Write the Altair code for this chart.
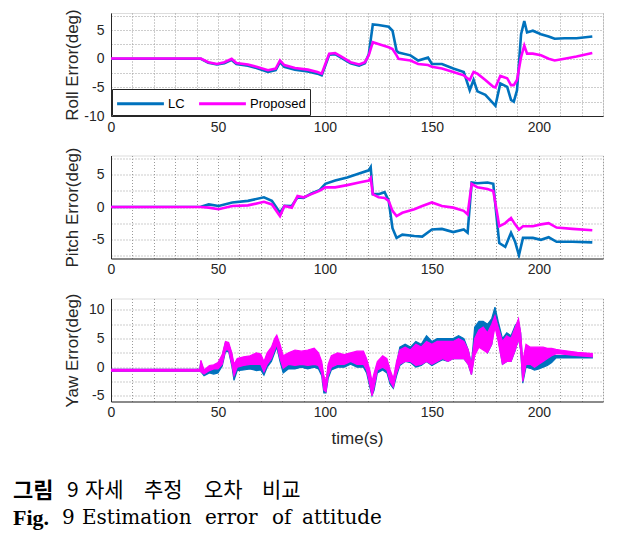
import altair as alt
import pandas as pd

# ---------------- data ----------------
series_names = ["LC", "Proposed"]
series_colors = ["#0072BD", "#FF00FF"]

# Roll error
roll_t = [0, 42, 45.5, 49.5, 53, 56.4, 58.6, 64, 68, 73.4, 77, 79, 81, 86, 92, 96.5, 98.5,
          100.2, 102, 104.8, 108.5, 112, 116, 118.7, 120.5, 122.4, 125, 129.8, 131.6, 133.5,
          134.4, 140, 143.6, 148.2, 150, 154.7, 160, 164.9, 167.7, 169.5, 171.3, 175, 178.7,
          179.7, 182, 185.2, 187, 188.3, 189.8, 191.7, 193.2, 194.5, 197.2, 201, 204.6, 207.4,
          212, 217.6, 225]
roll_prop = [0.05, 0.05, -0.6, -0.9, -0.6, 0.0, -0.75, -1.0, -1.4, -2.0, -1.7, -0.3, -1.1, -1.6,
             -1.9, -2.3, -2.6, -0.9, 0.9, 1.0, 0.2, -0.6, -1.0, -0.6, 0.6, 2.9, 2.6, 2.0, 1.7, 0.6,
             0.0, -0.3, -0.9, -1.1, -1.4, -1.7, -2.3, -2.9, -3.7, -2.3, -2.6, -3.7, -4.9, -5.0,
             -3.0, -3.4, -4.6, -4.6, -3.7, 0.3, 2.3, 0.9, 0.9, 0.6, 0.0, -0.3, 0.0, 0.4, 1.0]
roll_lc = [0.0, 0.0, -0.7, -1.0, -0.8, -0.2, -0.9, -1.2, -1.6, -2.3, -2.0, -0.6, -1.4, -1.9,
           -2.2, -2.6, -2.9, -1.2, 0.7, 0.8, 0.0, -0.8, -1.2, -0.8, 0.8, 6.0, 5.9, 5.6, 4.9, 1.4,
           1.1, 0.6, -0.3, 0.2, -0.9, -0.9, -1.7, -2.3, -5.5, -3.7, -5.7, -6.3, -7.8, -8.2,
           -4.3, -4.9, -7.2, -7.5, -5.5, 4.3, 6.6, 4.6, 4.9, 4.3, 3.9, 3.5, 3.6, 3.6, 3.9]

# Pitch error
pitch_t = [0, 42, 45.7, 50.3, 56.7, 64, 71.5, 75.2, 79, 81.1, 84.5, 87.2, 90, 93.7, 97.4, 100.2,
           104.8, 110.4, 116, 120.5, 121.4, 122.4, 125.1, 127.9, 129.8, 131.6, 133.5, 136.2,
           141.8, 145.5, 150, 154.7, 160, 164.9, 166.7, 168.6, 171.3, 176, 178.7, 180.6, 181.5,
           184.3, 187, 188.9, 190.7, 192.6, 197.2, 201, 204.6, 208.3, 215.7, 225]
pitch_prop = [0, 0, -0.1, -0.35, 0.15, 0.25, 0.8, 0.4, -1.4, 0.15, -0.1, 1.7, 1.5, 2.0, 2.5, 3.05,
              3.05, 3.4, 3.8, 4.1, 4.5, 2.0, 1.5, 1.4, 0.95, -0.6, -1.4, -0.9, -0.35, 0.15, 0.7,
              0.15, -0.1, -0.6, -1.15, 3.6, 3.05, 2.8, 2.5, -1.15, -3.0, -2.5, -1.7, -2.7, -3.5,
              -3.0, -3.0, -2.7, -2.5, -3.2, -3.4, -3.6]
pitch_lc = [0, 0.05, 0.4, 0.15, 0.7, 0.95, 1.5, 0.95, -0.9, 0.2, 0.15, 1.5, 1.4, 2.1, 2.6, 3.6,
            4.1, 4.6, 5.2, 5.7, 6.2, 2.0, 2.0, 2.3, 1.0, -3.3, -4.8, -4.3, -4.5, -4.6, -3.5,
            -3.4, -3.9, -3.5, -4.0, 3.8, 3.7, 3.8, 3.6, -2.7, -5.6, -6.2, -4.0, -5.4, -7.5,
            -4.8, -4.8, -5.1, -4.7, -5.4, -5.4, -5.5]

# Yaw error (dense oscillation drawn as low/high envelope)
yaw_t = [0, 41.5, 42, 43.5, 46, 48, 50, 52, 53.5, 55, 56.5, 57.5, 59, 62, 65, 68, 70, 71.5, 73,
         75, 76.5, 77.5, 79, 80.5, 83, 86, 89, 92, 95, 97, 98.5, 99.5, 100.5, 101.5, 103, 106,
         109, 112, 115, 118, 119.5, 121, 122, 123, 124.5, 127, 129, 130.5, 132, 133.5, 135,
         137.5, 140, 142.5, 145, 147.5, 150, 152.5, 155, 157.5, 160, 162.5, 165, 167, 168.5,
         170, 172, 174, 176, 178, 179.5, 181, 183, 185, 187, 189, 190.5, 191.5, 192.5, 194,
         196, 198, 200, 202, 204, 206, 208, 210, 218, 225]
yaw_prop_lo = [-0.7, -0.7, -0.8, -1.2, -0.6, -0.3, -0.3, 0.5, 3.0, 3.0, 0.5, -1.5, 0.0, 0.3,
               0.5, 0.5, 0.5, -0.8, 0.5, 1.5, 3.0, 4.0, 1.5, -0.2, 0.5, 0.3, 0.5, 0.3, 0.5, 0.3,
               -1.0, -4.0, -4.3, -1.5, 0.0, 0.5, 0.5, 1.0, 0.5, 0.5, -0.5, -3.0, -5.0, -3.5,
               -0.5, 0.0, -0.5, -2.5, -3.5, -1.0, 0.5, 1.0, 1.0, 0.3, 0.5, 1.0, 0.5, 1.0, 1.5,
               1.0, 1.5, 1.5, 1.5, 0.5, -1.3, 2.0, 3.5, 3.0, 2.5, 4.0, 7.0, 4.5, 0.5, 1.0, 1.0,
               3.0, 5.0, 3.0, -2.5, 0.5, 0.5, 0.0, 0.5, 1.0, 1.5, 2.0, 2.3, 2.3, 2.0, 1.8]
yaw_prop_hi = [-0.4, -0.4, 1.2, -0.5, 0.3, 0.4, 0.8, 2.2, 4.5, 4.3, 2.5, 0.5, 1.5, 1.8, 2.0,
               2.5, 2.3, 1.0, 2.5, 3.5, 5.0, 5.6, 4.0, 2.0, 2.5, 3.0, 2.8, 3.0, 3.3, 2.5, 1.0,
               -1.5, -2.5, 0.5, 2.0, 2.5, 2.2, 2.5, 2.8, 2.8, 1.5, -0.5, -2.5, -1.0, 1.0, 2.0,
               1.5, -0.5, -2.0, 1.0, 3.0, 3.5, 3.0, 4.0, 3.5, 4.5, 4.0, 4.5, 4.5, 4.5, 4.5, 5.0,
               4.5, 3.0, 0.5, 5.0, 6.5, 7.0, 6.0, 7.5, 9.0, 7.0, 4.5, 5.5, 5.0, 7.0, 8.5, 6.0,
               1.0, 4.0, 3.5, 3.5, 3.5, 3.5, 3.3, 3.3, 3.1, 3.0, 2.6, 2.4]
yaw_lc_lo = [-0.7, -0.7, -0.8, -1.5, -1.0, -1.2, -1.0, 0.2, 2.7, 2.7, 0.2, -2.3, -0.6, -0.5,
             -0.3, -0.6, -0.5, -1.4, 0.0, 1.0, 2.5, 3.5, 1.0, -1.0, -0.3, -0.3, 0.0, -0.3, 0.0,
             -0.3, -1.5, -4.5, -4.5, -2.0, -0.5, 0.0, 0.0, 0.5, 0.0, 0.0, -1.0, -3.5, -5.0,
             -4.0, -1.0, -0.5, -1.0, -3.0, -3.7, -1.5, 0.3, 1.0, 0.8, 0.0, 0.3, 1.0, 0.3, 0.8,
             1.3, 1.0, 1.5, 1.5, 1.5, 0.5, -1.3, 2.5, 4.0, 3.5, 2.5, 4.0, 8.0, 5.0, 0.5, 1.0,
             1.0, 3.0, 5.0, 3.0, -2.8, 0.0, -0.2, -0.5, -0.3, 0.0, 0.3, 0.8, 1.6, 1.6, 1.6, 1.6]
yaw_lc_hi = [-0.4, -0.4, 1.0, -0.8, 0.0, 0.0, 0.3, 2.0, 4.3, 4.0, 2.2, 0.0, 1.2, 1.3, 1.5,
             2.0, 2.0, 0.5, 2.2, 3.2, 4.8, 5.3, 3.5, 1.5, 2.0, 2.5, 2.3, 2.5, 3.0, 2.0, 0.5,
             -2.0, -3.0, 0.0, 1.5, 2.0, 2.0, 2.2, 2.5, 2.5, 1.0, -1.0, -3.0, -1.5, 0.5, 1.5,
             1.0, -1.0, -2.3, 0.5, 3.5, 4.0, 3.5, 4.5, 4.0, 5.5, 4.5, 5.0, 5.0, 5.0, 5.0, 5.5,
             5.0, 3.0, 0.5, 7.0, 8.0, 8.0, 7.5, 8.5, 10.5, 8.0, 5.0, 6.0, 5.5, 7.3, 8.0, 6.0,
             0.5, 3.5, 3.0, 2.5, 2.5, 2.5, 2.2, 2.0, 2.0, 2.0, 2.0, 2.0]

# axis ticks / labels
x_domain = [0, 230]
x_grid_values = list(range(0, 231, 10))
roll_domain, roll_grid = [-10, 8], [-10, -7.5, -5, -2.5, 0, 2.5, 5, 7.5]
pitch_domain, pitch_grid = [-8, 8], [-7.5, -5, -2.5, 0, 2.5, 5, 7.5]
yaw_domain, yaw_grid = [-6, 12], [-5, -2.5, 0, 2.5, 5, 7.5, 10]

caption_ko_words = ["그림", "9", "자세", "추정", "오차", "비교"]
caption_en_words = ["Fig.", "9", "Estimation", "error", "of", "attitude"]

# ---------------- tables ----------------
def long_table(t, lc, prop):
    return pd.DataFrame({
        "t": list(t) * 2,
        "v": list(lc) + list(prop),
        "series": ["LC"] * len(t) + ["Proposed"] * len(t),
    })

roll_df = long_table(roll_t, roll_lc, roll_prop)
pitch_df = long_table(pitch_t, pitch_lc, pitch_prop)
yaw_df = pd.DataFrame({
    "t": yaw_t * 2,
    "lo": yaw_lc_lo + yaw_prop_lo,
    "hi": yaw_lc_hi + yaw_prop_hi,
    "series": ["LC"] * len(yaw_t) + ["Proposed"] * len(yaw_t),
})

FONT = "Liberation Sans"
AX = "#262626"
GRID = "#9a9a9a"
W, H = 492, 103

color_scale = alt.Scale(domain=series_names, range=series_colors)


def x_axis(title=None):
    return alt.Axis(
        title=title,
        values=x_grid_values,
        labelExpr="datum.value % 50 == 0 ? '' + datum.value : ''",
        grid=True, gridDash=[1, 2], gridColor=GRID, gridWidth=1,
        ticks=False, tickSize=0,
        labelPadding=4, labelFontSize=14, labelColor=AX, labelFont=FONT,
        domainColor=AX, domainWidth=1,
        titleFontSize=17, titleFont=FONT, titleColor=AX, titleFontWeight="normal",
        titlePadding=11,
        labelFlush=False,
    )


def y_axis(title, values):
    return alt.Axis(
        title=title, values=values,
        labelExpr="datum.value % 5 == 0 ? '' + datum.value : ''",
        grid=True, gridDash=[1, 2], gridColor=GRID, gridWidth=1,
        ticks=False, tickSize=0,
        labelPadding=7, labelFontSize=14, labelColor=AX, labelFont=FONT,
        domainColor=AX, domainWidth=1,
        titleFontSize=17, titleFont=FONT, titleColor=AX, titleFontWeight="normal",
        titlePadding=3, minExtent=27, maxExtent=27,
        labelFlush=False,
    )


legend = alt.Legend(
    title=None, orient="bottom-left", direction="horizontal", columns=2,
    symbolType="M-2.6,0H2.6", symbolStrokeWidth=3, symbolSize=324, symbolOffset=14,
    symbolFillColor="transparent",
    labelFontSize=13, labelFont=FONT, labelColor="black", labelOffset=17,
    columnPadding=8, padding=4, offset=1,
    strokeColor=AX, fillColor="white",
)

roll = alt.Chart(roll_df).mark_line(strokeWidth=2.6, clip=True).encode(
    x=alt.X("t:Q", scale=alt.Scale(domain=x_domain, nice=False), axis=x_axis()),
    y=alt.Y("v:Q", scale=alt.Scale(domain=roll_domain, nice=False), axis=y_axis("Roll Error(deg)", roll_grid)),
    color=alt.Color("series:N", scale=color_scale, legend=legend),
).properties(width=W, height=H)

pitch = alt.Chart(pitch_df).mark_line(strokeWidth=2.6, clip=True).encode(
    x=alt.X("t:Q", scale=alt.Scale(domain=x_domain, nice=False), axis=x_axis()),
    y=alt.Y("v:Q", scale=alt.Scale(domain=pitch_domain, nice=False), axis=y_axis("Pitch Error(deg)", pitch_grid)),
    color=alt.Color("series:N", scale=color_scale, legend=None),
).properties(width=W, height=H)

yaw = alt.Chart(yaw_df).mark_area(strokeWidth=1.2, clip=True, opacity=1).encode(
    x=alt.X("t:Q", scale=alt.Scale(domain=x_domain, nice=False), axis=x_axis("time(s)")),
    y=alt.Y("lo:Q", scale=alt.Scale(domain=yaw_domain, nice=False), axis=y_axis("Yaw Error(deg)", yaw_grid)),
    y2="hi:Q",
    color=alt.Color("series:N", scale=color_scale, legend=None),
    stroke=alt.Stroke("series:N", scale=color_scale, legend=None),
).properties(width=W, height=H)

dummy = pd.DataFrame({"a": [0]})
KO = "Noto Sans CJK KR"
EN_B = "Liberation Serif"
EN = "DejaVu Serif"


def cap(text, x, y, font, size, bold=False):
    return alt.Chart(dummy).mark_text(
        text=text, font=font, fontSize=size, fontWeight="bold" if bold else "normal",
        align="left", baseline="middle", color="black",
    ).encode(x=alt.value(x), y=alt.value(y))


OX = -98  # caption left offset relative to the plot area
ko_x = [10, 64, 82, 141, 201, 259]
en_x = [10, 59, 79, 202, 269, 299]
ko_layers = [cap(w, OX + x - 10, 28, KO, 22 if i == 0 else 21, i == 0)
             for i, (w, x) in enumerate(zip(caption_ko_words, ko_x))]
en_layers = [cap(w, OX + x - 10, 55, EN_B if i == 0 else EN, 22 if i == 0 else 20, i == 0)
             for i, (w, x) in enumerate(zip(caption_en_words, en_x))]

caption = alt.layer(*ko_layers, *en_layers).properties(
    width=W, height=50, view=alt.ViewConfig(stroke="transparent", strokeWidth=0)
)

top_pair = alt.vconcat(roll, pitch, spacing=11.5).resolve_legend(
    color="independent"
).resolve_scale(color="independent")

chart = alt.vconcat(top_pair, yaw, caption, spacing=15.5).resolve_legend(
    color="independent", stroke="independent"
).resolve_scale(color="independent", stroke="independent").configure_view(
    stroke="transparent", strokeWidth=0
).configure(font=FONT, background="white").properties(
    padding={"left": 5, "top": 0, "right": 5, "bottom": 5}
)

chart.save("out.html", embed_options={"renderer": "svg", "actions": False})
